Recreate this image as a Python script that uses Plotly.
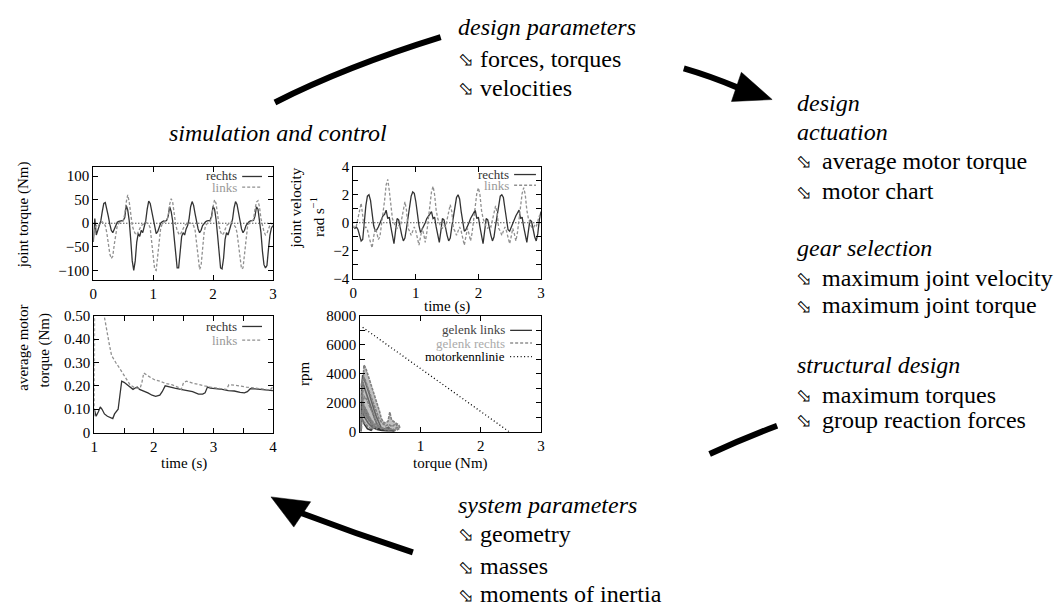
import plotly.graph_objects as go

W, H = 1056, 613
def px(x): return x / W
def py(y): return 1 - y / H

FONT = "Liberation Serif"

# ---------------- data ----------------
t = [round(0.025 * i, 3) for i in range(121)]

torque_rechts = [
    -40, 10, -25, -15, -5, 5, 25, 42, 44, 32, 15, -2, -15, -20, -12, -3, 2, 4, 5, 5,
    6, 12, 38, 28, 5, -35, -80, -100, -80, -40, -22, -28, -15, -20, -8, 5, 30, 47, 42, 25,
    5, -12, -22, -18, -8, 0, 3, 5, 4, 6, 15, 35, 25, 5, -30, -72, -95, -95, -60, -28,
    -20, -25, -12, -5, 10, 35, 46, 38, 20, 2, -12, -20, -15, -5, 0, 3, 5, 5, 6, 15,
    36, 30, 8, -25, -70, -95, -97, -75, -35, -20, -25, -12, -5, 8, 32, 46, 40, 22, 3, -12,
    -20, -15, -5, 0, 3, 5, 5, 6, 15, 35, 30, 8, -20, -60, -88, -95, -90, -55, -25, -10,
    -5]
torque_links = [
    -30, -10, -5, -8, -2, 2, 3, 0, -5, -20, -45, -65, -75, -70, -45, -20, -5, 0, 3, 4,
    5, 20, 45, 60, 45, 20, -5, -15, -22, -25, -18, -10, -5, -3, 0, 2, 0, -3, -10, -35,
    -70, -98, -100, -70, -35, -10, -2, 2, 4, 5, 15, 40, 52, 45, 20, -2, -15, -22, -25, -18,
    -10, -5, -2, 0, 2, 0, -3, -5, -15, -40, -75, -98, -90, -55, -20, -5, 0, 3, 4, 10,
    35, 50, 42, 15, -5, -18, -25, -22, -12, -5, -2, 0, 2, 0, -3, -8, -20, -45, -80, -97,
    -95, -65, -30, -8, 0, 3, 4, 8, 30, 45, 48, 35, 10, -8, -18, -25, -22, -12, -5, -2,
    0]

vel_rechts = [
    -0.3, -0.4, -0.3, -0.5, -0.9, -1.3, -1.2, 0.2, 1.2, 1.9, 2.0, 1.6, 0.6, -0.2, -0.6, -0.5, -0.3, 0.0, 0.3, 0.5,
    0.6, 0.9, 0.3, 0.4, -0.3, -1.0, -1.5, -0.6, 0.3, 0.2, -0.5, -0.9, -1.3, -1.1, -0.4, 0.3, 1.2, 1.9, 2.2, 2.1,
    1.5, 0.6, -0.2, -0.7, -0.5, -0.3, 0.0, 0.3, 0.5, 0.6, 0.8, 0.3, 0.4, -0.3, -1.0, -1.4, -0.6, 0.3, 0.2, -0.5,
    -0.9, -1.3, -1.1, -0.3, 0.4, 1.2, 1.8, 2.0, 1.7, 0.8, -0.1, -0.6, -0.5, -0.3, 0.0, 0.3, 0.5, 0.6, 0.9, 0.3,
    0.4, -0.3, -1.0, -1.5, -0.6, 0.3, 0.2, -0.5, -0.9, -1.3, -1.0, -0.2, 0.5, 1.3, 1.9, 2.0, 1.8, 1.0, 0.2, -0.5,
    -0.6, -0.3, 0.0, 0.3, 0.5, 0.7, 0.9, 0.3, 0.4, -0.3, -1.0, -1.4, -0.6, 0.2, 0.1, -0.5, -1.0, -1.3, -0.8, 0.2,
    0.8]
vel_links = [
    -0.2, -0.4, -0.2, 0.3, 1.0, 1.4, 0.5, -0.4, -0.3, -0.5, -1.0, -1.4, -1.8, -1.0, -0.4, -0.7, -1.2, -1.0, -0.2, 0.6,
    1.6, 2.7, 3.1, 2.3, 1.0, 0.3, 0.0, -0.3, -0.4, -0.2, -0.3, 0.3, 1.0, 1.5, 0.9, -0.4, -0.6, -0.9, -0.6, -0.3,
    -0.6, -1.2, -1.6, -1.0, -0.4, -0.8, -1.4, -0.7, 0.3, 1.3, 2.2, 2.6, 2.0, 0.9, 0.3, 0.0, -0.3, -0.4, -0.2, -0.3,
    0.2, 0.8, 1.3, 0.8, -0.4, -0.6, -0.9, -0.6, -0.3, -0.6, -1.2, -1.6, -1.0, -0.4, -0.8, -1.3, -0.7, 0.2, 1.2, 2.1,
    2.5, 2.0, 0.9, 0.3, 0.0, -0.3, -0.4, -0.2, -0.3, 0.2, 0.8, 1.2, 0.7, -0.4, -0.6, -0.9, -0.6, -0.3, -0.6, -1.1,
    -1.5, -1.0, -0.4, -0.8, -1.3, -0.7, 0.2, 1.2, 2.1, 2.5, 2.0, 0.9, 0.3, 0.0, -0.3, -0.4, -0.2, -0.3, 0.2, 0.5,
    0.3]

avg_t_rechts = [1.0, 1.03, 1.07, 1.10, 1.13, 1.17, 1.22, 1.27, 1.31, 1.34, 1.37, 1.40, 1.43, 1.46, 1.50, 1.55, 1.60,
                1.65, 1.68, 1.72, 1.76, 1.82, 1.90, 1.97, 2.03, 2.10, 2.14, 2.19, 2.25, 2.35, 2.45, 2.55, 2.65, 2.75,
                2.82, 2.86, 2.90, 2.95, 3.05, 3.15, 3.25, 3.35, 3.45, 3.52, 3.57, 3.62, 3.70, 3.80, 3.90, 4.0]
avg_v_rechts = [0.10, 0.07, 0.09, 0.11, 0.10, 0.08, 0.07, 0.065, 0.06, 0.08, 0.09, 0.10, 0.16, 0.22, 0.215, 0.205,
                0.195, 0.185, 0.19, 0.195, 0.185, 0.18, 0.17, 0.16, 0.155, 0.16, 0.175, 0.20, 0.195, 0.19, 0.185,
                0.18, 0.175, 0.165, 0.165, 0.17, 0.195, 0.19, 0.188, 0.185, 0.18, 0.178, 0.172, 0.17, 0.175, 0.188,
                0.187, 0.185, 0.182, 0.18]
avg_t_links = [1.0, 1.005, 1.05, 1.10, 1.15, 1.18, 1.21, 1.25, 1.29, 1.32, 1.36, 1.40, 1.45, 1.50, 1.55, 1.60, 1.66,
               1.72, 1.77, 1.80, 1.83, 1.88, 1.95, 2.02, 2.10, 2.20, 2.30, 2.40, 2.46, 2.50, 2.55, 2.65, 2.75, 2.85,
               2.95, 3.05, 3.15, 3.22, 3.26, 3.35, 3.45, 3.55, 3.65, 3.75, 3.85, 3.95, 3.98, 4.0]
avg_v_links = [0.07, 0.75, 0.70, 0.60, 0.52, 0.48, 0.43, 0.38, 0.33, 0.315, 0.30, 0.285, 0.265, 0.245, 0.225, 0.205,
               0.195, 0.19, 0.19, 0.215, 0.255, 0.245, 0.235, 0.225, 0.22, 0.21, 0.205, 0.195, 0.185, 0.215, 0.22,
               0.212, 0.205, 0.2, 0.195, 0.19, 0.187, 0.185, 0.205, 0.203, 0.198, 0.195, 0.192, 0.19, 0.186, 0.182,
               0.19, 0.20]

mc_tq_links = [0.01, 0.02, 0.04, 0.07, 0.11, 0.15, 0.19, 0.23, 0.27, 0.31, 0.35, 0.39, 0.43, 0.48, 0.53, 0.58, 0.55,
               0.47, 0.40, 0.33, 0.25, 0.18, 0.11, 0.06, 0.03, 0.02, 0.04, 0.08, 0.12, 0.16, 0.20, 0.24, 0.28, 0.32,
               0.37, 0.42, 0.47, 0.50, 0.44, 0.36, 0.28, 0.20, 0.13, 0.07, 0.03, 0.02, 0.05, 0.09, 0.13, 0.17, 0.21,
               0.18, 0.12, 0.07, 0.03]
mc_rpm_links = [0, 2800, 3900, 3600, 3100, 2600, 2000, 1500, 1000, 600, 250, 150, 250, 200, 150, 80, 30, 60, 100, 150,
                300, 600, 1000, 1500, 2000, 3300, 3400, 2900, 2300, 1800, 1300, 900, 500, 250, 100, 200, 300, 150, 50,
                80, 150, 300, 600, 1000, 1500, 1200, 1800, 1500, 1100, 700, 300, 100, 200, 500, 900]
mc_tq_rechts = [0.02, 0.04, 0.06, 0.09, 0.13, 0.18, 0.23, 0.28, 0.32, 0.35, 0.40, 0.46, 0.49, 0.52, 0.58, 0.64, 0.66,
                0.60, 0.50, 0.40, 0.30, 0.20, 0.12, 0.06, 0.03, 0.02, 0.05, 0.08, 0.12, 0.17, 0.22, 0.27, 0.31, 0.36,
                0.42, 0.47, 0.53, 0.59, 0.62, 0.55, 0.45, 0.35, 0.25, 0.16, 0.09, 0.04, 0.02, 0.03, 0.07, 0.11, 0.16,
                0.21, 0.26, 0.30, 0.27, 0.22, 0.15, 0.09, 0.05, 0.02, 0.03, 0.06, 0.10, 0.14, 0.19, 0.23, 0.20, 0.14,
                0.08, 0.03]
mc_rpm_rechts = [200, 2500, 4600, 4400, 3900, 3300, 2600, 1900, 1400, 900, 600, 700, 1350, 800, 600, 450, 250, 100,
                 150, 200, 350, 700, 1200, 1800, 2400, 3200, 3800, 3600, 3100, 2500, 1900, 1300, 900, 600, 400, 500,
                 350, 550, 300, 150, 100, 200, 400, 800, 1300, 1900, 2600, 2000, 2400, 2200, 1700, 1200, 800, 400,
                 200, 350, 700, 1100, 1500, 900, 1400, 1800, 1500, 1100, 700, 350, 150, 300, 600, 800]
motor_tq = [0.04, 2.47]
motor_rpm = [7200, 0]

DARK = "#333333"
LIGHT = "#909090"

fig = go.Figure()
fig.add_trace(go.Scatter(x=t, y=torque_rechts, xaxis="x", yaxis="y", mode="lines",
                         line=dict(color=DARK, width=1.3)))
fig.add_trace(go.Scatter(x=t, y=torque_links, xaxis="x", yaxis="y", mode="lines",
                         line=dict(color=LIGHT, width=1.3, dash="3px,2px")))
fig.add_trace(go.Scatter(x=t, y=vel_rechts, xaxis="x2", yaxis="y2", mode="lines",
                         line=dict(color=DARK, width=1.3)))
fig.add_trace(go.Scatter(x=t, y=vel_links, xaxis="x2", yaxis="y2", mode="lines",
                         line=dict(color=LIGHT, width=1.3, dash="3px,2px")))
fig.add_trace(go.Scatter(x=avg_t_rechts, y=avg_v_rechts, xaxis="x3", yaxis="y3", mode="lines",
                         line=dict(color=DARK, width=1.3)))
fig.add_trace(go.Scatter(x=avg_t_links, y=avg_v_links, xaxis="x3", yaxis="y3", mode="lines",
                         line=dict(color=LIGHT, width=1.3, dash="3px,2px")))
fig.add_trace(go.Scatter(x=mc_tq_links, y=mc_rpm_links, xaxis="x4", yaxis="y4", mode="lines",
                         line=dict(color=DARK, width=1.6)))
fig.add_trace(go.Scatter(x=mc_tq_rechts, y=mc_rpm_rechts, xaxis="x4", yaxis="y4", mode="lines",
                         fill="toself", fillcolor="rgba(140,140,140,0.55)",
                         line=dict(color="#808080", width=1.6, dash="3px,1px")))
fig.add_trace(go.Scatter(x=motor_tq, y=motor_rpm, xaxis="x4", yaxis="y4", mode="lines",
                         line=dict(color="black", width=1.3, dash="1px,2.5px")))

def axis(dom, rng, tickvals, ticktext=None, anchor=None, minor=None):
    d = dict(domain=dom, range=rng, showline=True, linecolor="black", linewidth=1,
             mirror="ticks", ticks="inside", ticklen=5, tickcolor="black",
             showgrid=False, zeroline=False, tickmode="array", tickvals=tickvals,
             tickfont=dict(family=FONT, size=15, color="black"), anchor=anchor)
    if ticktext is not None:
        d["ticktext"] = ticktext
    if minor is not None:
        d["minor"] = dict(tickmode="array", tickvals=minor, ticks="inside", ticklen=5,
                          tickcolor="black", showgrid=False)
    return d

fig.update_layout(
    width=W, height=H, margin=dict(l=0, r=0, t=0, b=0), autosize=False,
    paper_bgcolor="white", plot_bgcolor="white", showlegend=False,
    xaxis=axis([px(90), px(271)], [0, 3], [0, 1, 2, 3], anchor="y"),
    yaxis=axis([py(279), py(163)], [-120, 120], [-100, -50, 0, 50, 100], anchor="x"),
    xaxis2=axis([px(352), px(541)], [0, 3], [0, 1, 2, 3], anchor="y2"),
    yaxis2=axis([py(278), py(163)], [-4, 4], [-4, -2, 0, 2, 4],
                ["\u22124", "\u22122", "0", "2", "4"], anchor="x2", minor=[-3, -1, 1, 3]),
    xaxis3=axis([px(91), px(271)], [1, 4], [1, 2, 3, 4], anchor="y3", minor=[1.5, 2.5, 3.5]),
    yaxis3=axis([py(436), py(316)], [0, 0.5], [0, 0.1, 0.2, 0.3, 0.4, 0.5],
                ["0", "0.10", "0.20", "0.30", "0.40", "0.50"], anchor="x3"),
    xaxis4=axis([px(359), px(541)], [0, 3], [1, 2, 3], anchor="y4"),
    yaxis4=axis([py(435), py(316)], [0, 8000], [0, 2000, 4000, 6000, 8000], anchor="x4",
                minor=[1000, 3000, 5000, 7000]),
)

shapes = []
# dotted zero lines
for xr, yr in (("x domain", "y"), ("x2 domain", "y2")):
    shapes.append(dict(type="line", xref=xr, yref=yr, x0=0, x1=1, y0=0, y1=0,
                       line=dict(color="black", width=1, dash="1px,2px"), layer="below"))

def seg(x0, y0, x1, y1, color, dash="solid", width=1.3):
    shapes.append(dict(type="line", xref="paper", yref="paper", x0=px(x0), x1=px(x1),
                       y0=py(y0), y1=py(y1), line=dict(color=color, width=width, dash=dash)))

annotations = []
def txt(x, y, s, size=15, color="black", anchor="left", italic=False, angle=0, pad=1):
    annotations.append(dict(x=px(x), y=py(y), xref="paper", yref="paper", text=s,
                            showarrow=False, xanchor=anchor, yanchor="middle", textangle=angle,
                            borderpad=pad,
                            font=dict(family=FONT, size=size, color=color,
                                      style="italic" if italic else "normal")))

# legends
LG = 13
txt(236, 172, "rechts", LG, DARK, "right", pad=0); seg(240, 173, 260, 173, DARK)
txt(236, 184, "links", LG, "#999999", "right", pad=0); seg(240, 184, 260, 184, LIGHT, "3px,2px")
txt(510, 171, "rechts", LG, DARK, "right", pad=0); seg(514, 171, 536, 171, DARK)
txt(510, 182, "links", LG, "#999999", "right", pad=0); seg(514, 182, 536, 182, LIGHT, "3px,2px")
txt(236, 327, "rechts", LG, DARK, "right", pad=0); seg(240, 327, 260, 327, DARK)
txt(236, 341, "links", LG, "#999999", "right", pad=0); seg(240, 341, 260, 341, LIGHT, "3px,2px")
txt(506, 330, "gelenk links", LG, "#444444", "right", pad=0); seg(510, 331, 532, 331, DARK)
txt(506, 344, "gelenk rechts", LG, "#aaaaaa", "right", pad=0); seg(510, 344, 532, 344, LIGHT, "3px,2px")
txt(506, 358, "motorkennlinie", LG, "black", "right", pad=0); seg(510, 358, 532, 358, "black", "1px,2.5px", 1.3)

# axis titles
txt(20, 212, "joint torque (Nm)", 15, anchor="center", angle=-90)
txt(294, 205, "joint velocity", 15, anchor="center", angle=-90)
txt(316, 215, "rad s<sup>\u22121</sup>", 15, anchor="center", angle=-90)
txt(446, 306, "time (s)", 15, anchor="center")
txt(19, 349, "average motor", 15, anchor="center", angle=-90)
txt(41, 351, "torque (Nm)", 15, anchor="center", angle=-90)
txt(302, 376, "rpm", 15, anchor="center", angle=-90)
txt(181, 468, "time (s)", 15, anchor="center")
txt(450, 468, "torque (Nm)", 15, anchor="center")

# text blocks
ICON = "\u2B02"
def bullet(x, y, s, gap):
    txt(x - 2, y + 1, ICON, 19)
    txt(x + gap, y, s, 24)

txt(455, 20, "design parameters", 24, italic=True)
bullet(457, 52, "forces, torques", 21)
bullet(457, 82, "velocities", 21)
txt(164, 128, "simulation and control", 24, italic=True)
txt(797, 98, "design", 24, italic=True)
txt(797, 127, "actuation", 24, italic=True)
bullet(798, 157, "average motor torque", 24)
bullet(798, 188, "motor chart", 24)
txt(797, 246, "gear selection", 24, italic=True)
bullet(798, 277, "maximum joint velocity", 24)
bullet(798, 305, "maximum joint torque", 24)
txt(797, 367, "structural design", 24, italic=True)
bullet(798, 397, "maximum torques", 24)
bullet(798, 423, "group reaction forces", 24)
txt(455, 510, "system parameters", 24, italic=True)
bullet(457, 540, "geometry", 21)
bullet(457, 573, "masses", 21)
bullet(457, 602, "moments of inertia", 21)

# big arrows
def P(x, y): return f"{px(x):.5f},{py(y):.5f}"
def curve(p0, c, p1, w=6):
    shapes.append(dict(type="path", xref="paper", yref="paper",
                       path=f"M {P(*p0)} Q {P(*c)} {P(*p1)}",
                       line=dict(color="black", width=w)))
def tri(a, b, c):
    shapes.append(dict(type="path", xref="paper", yref="paper",
                       path=f"M {P(*a)} L {P(*b)} L {P(*c)} Z",
                       fillcolor="black", line=dict(color="black", width=0.5)))

curve((273, 97), (345, 60), (440, 30))
curve((685, 62), (712, 70), (740, 82))
tri((774, 94), (733, 96), (743, 66))
curve((711, 458), (745, 442), (779, 429))
curve((412, 559), (355, 540), (298, 518))
tri((269, 502), (309, 507), (292, 533))

fig.update_layout(shapes=shapes, annotations=annotations)
fig.write_html("out.html", config={"displayModeBar": False, "staticPlot": True},
               post_script="document.body.style.margin='0px';document.body.style.overflow='hidden';")
